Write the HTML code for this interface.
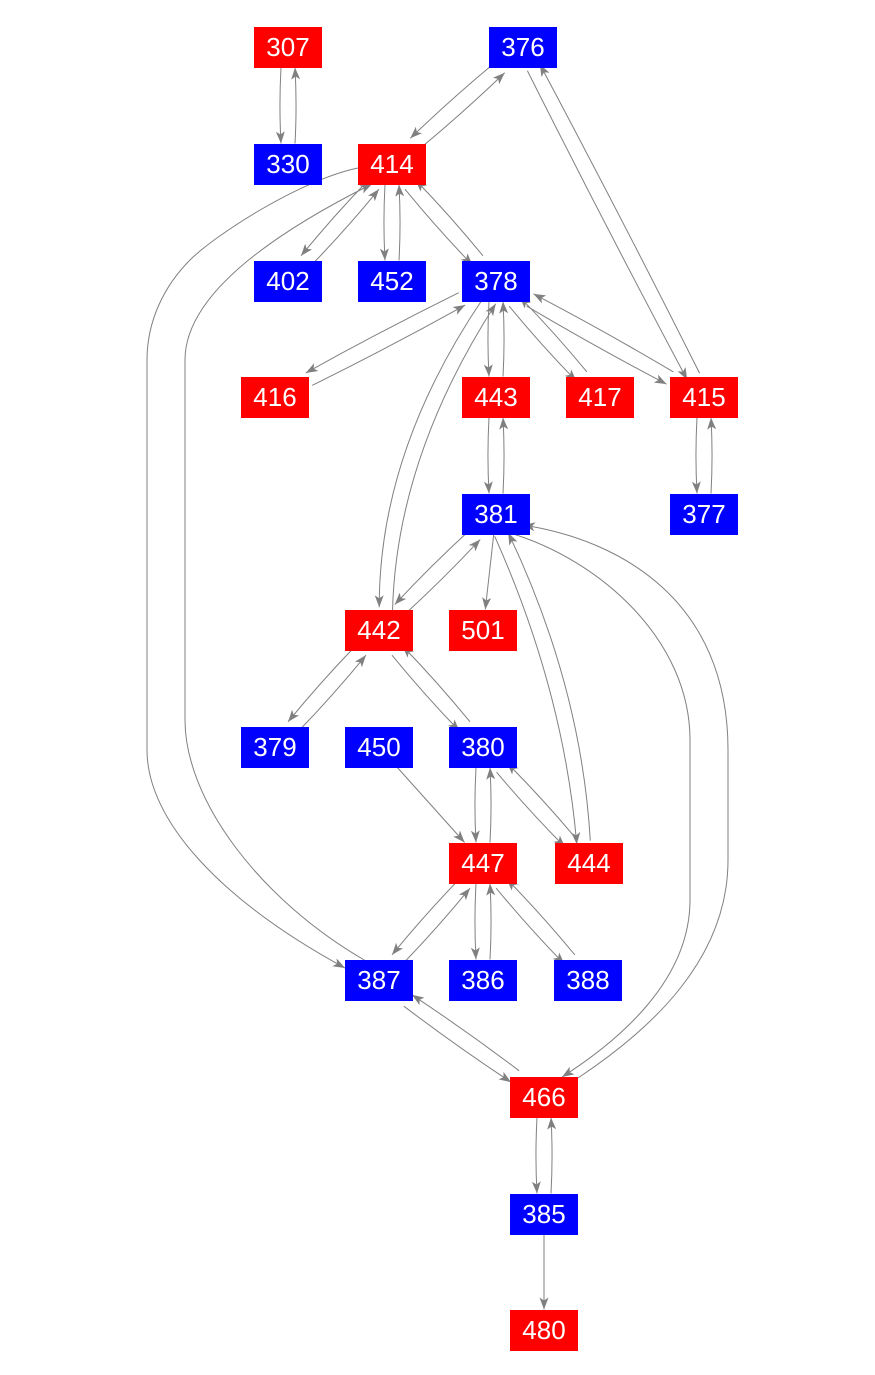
<!DOCTYPE html>
<html><head><meta charset="utf-8"><style>
html,body{margin:0;padding:0;background:#fff;}
svg{display:block;}
text{font-family:"Liberation Sans",Arial,sans-serif;font-size:26px;fill:#fff;text-anchor:middle;}
</style></head><body>
<svg id="s" width="875" height="1375" viewBox="0 0 875 1375" xmlns="http://www.w3.org/2000/svg">
<defs><marker id="a" viewBox="0 0 12 10" refX="12" refY="5" markerWidth="12" markerHeight="10" markerUnits="userSpaceOnUse" orient="auto"><path d="M0,0.5 L12,5 L0,9.5 L3,5 Z" fill="#808080"/></marker></defs>
<g id="e" fill="none" stroke="#808080" stroke-width="1">
<path d="M358,168 C300,180 215,235 190,260 C165,285 147,320 147,360 L147,750 C147,820 220,900 345,968" marker-end="url(#a)"/>
<path d="M366,961 C260,900 185,800 185,720 L185,360 C185,300 260,240 372,184" marker-end="url(#a)"/>
<path d="M510,533 C600,560 690,640 690,740 L690,900 C690,980 620,1040 562,1077" marker-end="url(#a)"/>
<path d="M578,1078 C650,1030 728,960 728,860 L728,750 C728,600 620,540 523,525" marker-end="url(#a)"/>
</g>
</svg>
<script>
var N={307:[288,47],376:[523,47],330:[288,164],414:[392,164],402:[288,281],452:[392,281],378:[496,281],416:[275,397],443:[496,397],417:[600,397],415:[704,397],377:[704,514],381:[496,514],442:[379,630],501:[483,630],379:[275,747],450:[379,747],380:[483,747],447:[483,863],444:[589,863],387:[379,980],386:[483,980],388:[588,980],466:[544,1097],385:[544,1214],480:[544,1330]};
var E=[[307,330],[330,307],[376,414],[414,376],[376,415],[415,376],[414,402],[402,414],[414,452],[452,414],[414,378],[378,414],[378,416],[416,378],[378,443],[443,378],[378,417],[417,378],[378,415],[415,378],[378,442],[442,378],[415,377],[377,415],[443,381],[381,443],[381,442],[442,381],[381,501],[381,444],[444,381],[442,379],[379,442],[442,380],[380,442],[450,447],[380,447],[447,380],[380,444],[444,380],[447,387],[387,447],[447,386],[386,447],[447,388],[388,447],[387,466],[466,387],[466,385],[385,466],[385,480]];
var BEND={"378-442":[-50,0],"442-378":[-50,0],"381-444":[30,0],"444-381":[30,0]};
var ns="http://www.w3.org/2000/svg",g=document.getElementById('e');
function clip(dx,dy){var hw=34,hh=20.5,t=Infinity;if(dx)t=Math.min(t,hw/Math.abs(dx));if(dy)t=Math.min(t,hh/Math.abs(dy));return t;}
E.forEach(function(p){var A=N[p[0]],B=N[p[1]];var dx=B[0]-A[0],dy=B[1]-A[1],L=Math.hypot(dx,dy);var ux=dx/L,uy=dy/L;
var rev=E.some(function(q){return q[0]==p[1]&&q[1]==p[0];});var o=rev?7:0;
var px=-uy*o,py=ux*o;var ax=A[0]+px,ay=A[1]+py,bx=B[0]+px,by=B[1]+py;
var t1=clip(ux,uy);var sx=ax+ux*t1,sy=ay+uy*t1,ex=bx-ux*t1,ey=by-uy*t1;
var mx=(sx+ex)/2+px*0.3,my=(sy+ey)/2+py*0.3;
var b=BEND[p[0]+'-'+p[1]];if(b){mx+=b[0];my+=b[1];}
var e=document.createElementNS(ns,'path');e.setAttribute('d','M'+sx+','+sy+' Q'+mx+','+my+' '+ex+','+ey);e.setAttribute('marker-end','url(#a)');g.appendChild(e);});
</script>
<svg width="875" height="1375" style="position:absolute;left:0;top:0" xmlns="http://www.w3.org/2000/svg">
<g>
<rect x="254" y="27" width="68" height="41" fill="#f00"/><text x="288" y="56">307</text>
<rect x="489" y="27" width="68" height="41" fill="#00f"/><text x="523" y="56">376</text>
<rect x="254" y="144" width="68" height="41" fill="#00f"/><text x="288" y="173">330</text>
<rect x="358" y="144" width="68" height="41" fill="#f00"/><text x="392" y="173">414</text>
<rect x="254" y="261" width="68" height="41" fill="#00f"/><text x="288" y="290">402</text>
<rect x="358" y="261" width="68" height="41" fill="#00f"/><text x="392" y="290">452</text>
<rect x="462" y="261" width="68" height="41" fill="#00f"/><text x="496" y="290">378</text>
<rect x="241" y="377" width="68" height="41" fill="#f00"/><text x="275" y="406">416</text>
<rect x="462" y="377" width="68" height="41" fill="#f00"/><text x="496" y="406">443</text>
<rect x="566" y="377" width="68" height="41" fill="#f00"/><text x="600" y="406">417</text>
<rect x="670" y="377" width="68" height="41" fill="#f00"/><text x="704" y="406">415</text>
<rect x="670" y="494" width="68" height="41" fill="#00f"/><text x="704" y="523">377</text>
<rect x="462" y="494" width="68" height="41" fill="#00f"/><text x="496" y="523">381</text>
<rect x="345" y="610" width="68" height="41" fill="#f00"/><text x="379" y="639">442</text>
<rect x="449" y="610" width="68" height="41" fill="#f00"/><text x="483" y="639">501</text>
<rect x="241" y="727" width="68" height="41" fill="#00f"/><text x="275" y="756">379</text>
<rect x="345" y="727" width="68" height="41" fill="#00f"/><text x="379" y="756">450</text>
<rect x="449" y="727" width="68" height="41" fill="#00f"/><text x="483" y="756">380</text>
<rect x="449" y="843" width="68" height="41" fill="#f00"/><text x="483" y="872">447</text>
<rect x="555" y="843" width="68" height="41" fill="#f00"/><text x="589" y="872">444</text>
<rect x="345" y="960" width="68" height="41" fill="#00f"/><text x="379" y="989">387</text>
<rect x="449" y="960" width="68" height="41" fill="#00f"/><text x="483" y="989">386</text>
<rect x="554" y="960" width="68" height="41" fill="#00f"/><text x="588" y="989">388</text>
<rect x="510" y="1077" width="68" height="41" fill="#f00"/><text x="544" y="1106">466</text>
<rect x="510" y="1194" width="68" height="41" fill="#00f"/><text x="544" y="1223">385</text>
<rect x="510" y="1310" width="68" height="41" fill="#f00"/><text x="544" y="1339">480</text>
</g>
</svg>
</body></html>
